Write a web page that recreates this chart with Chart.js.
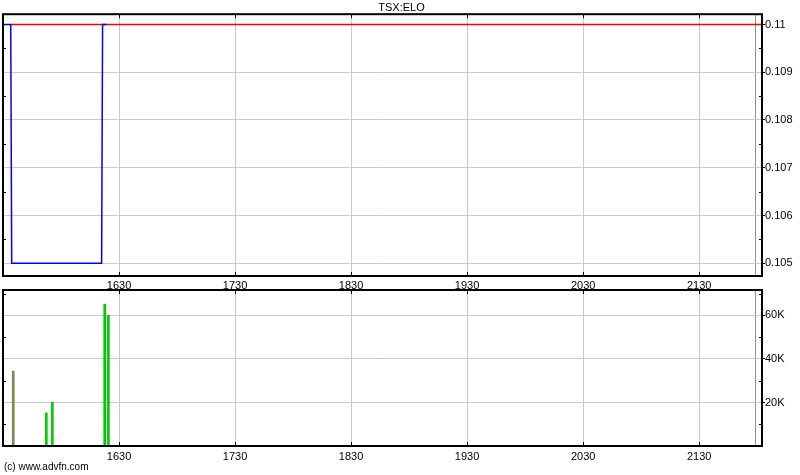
<!DOCTYPE html>
<html>
<head>
<meta charset="utf-8">
<script src="https://cdn.jsdelivr.net/npm/chart.js@4.4.0/dist/chart.umd.min.js"></script>
<style>
body { margin: 0; background: #fff; }
#wrap { position: relative; width: 800px; height: 475px; overflow: hidden; background: #fff; }
#top { position: absolute; left: 0; top: 0; width: 800px; height: 290px; }
#bottom { position: absolute; left: 0; top: 280px; width: 800px; height: 180px; }
#copy { position: absolute; left: 4px; top: 461px; font: 10px 'Liberation Sans', Arial, sans-serif; color: #000; }
</style>
</head>
<body>
<div id="wrap">
  <div id="top"><canvas id="priceChart"></canvas></div>
  <div id="bottom"><canvas id="volChart"></canvas></div>
  <div id="copy">(c) www.advfn.com</div>
</div>
<script>
var symbol = "TSX:ELO";

// times are minutes since midnight
var priceTimes = [930, 934, 934.5, 981, 981.5, 983.5];
var priceValues = [0.11, 0.11, 0.105, 0.105, 0.11, 0.11];

var refTimes = [934, 1322.5];
var refValues = [0.11, 0.11];

var volTimes = [935.3, 952.4, 955.5, 982.6, 984.5];
var volValues = [34400, 15200, 20100, 65200, 60100];
var volColors = ['#7a8a50', '#00cc00', '#00cc00', '#00cc00', '#00cc00'];

var hourTicks = [990, 1050, 1110, 1170, 1230, 1290];
var hourLabels = ['1630', '1730', '1830', '1930', '2030', '2130'];
var sessionEnd = 1319;

var priceTicks = [0.105, 0.1055, 0.106, 0.1065, 0.107, 0.1075, 0.108, 0.1085, 0.109, 0.1095, 0.11];
var priceLabels = ['0.105', '', '0.106', '', '0.107', '', '0.108', '', '0.109', '', '0.11'];

var volTicks = [10000, 20000, 30000, 40000, 50000, 60000, 70000];
var volLabels = ['', '20K', '', '40K', '', '60K', ''];

var tickFont = { family: "'Liberation Sans Narrow', 'Arial Narrow', 'Liberation Sans', sans-serif", size: 11, weight: 'normal' };
var gridColor = '#c4cccc';

Chart.defaults.color = '#000';
Chart.defaults.font = tickFont;

function zip(xs, ys) {
    return xs.map(function(x, i) { return { x: x, y: ys[i] }; });
}

// black box round the plot, plus the small inward tick marks
var framePlugin = {
    id: 'frame',
    afterDatasetsDraw: function(chart, args, opts) {
        var a = chart.chartArea;
        var ctx = chart.ctx;
        var xs = chart.scales.x;
        var ys = chart.scales.y;
        ctx.save();
        ctx.strokeStyle = '#000';
        ctx.lineWidth = 1;
        ctx.beginPath();
        hourTicks.forEach(function(v) {
            var px = Math.round(xs.getPixelForValue(v)) + 0.5;
            ctx.moveTo(px, a.top); ctx.lineTo(px, a.top + 4);
            ctx.moveTo(px, a.bottom); ctx.lineTo(px, a.bottom - 4);
        });
        opts.ticks.forEach(function(v, i) {
            if (opts.labels[i] !== '') return;
            var py = Math.round(ys.getPixelForValue(v)) + 0.5;
            ctx.moveTo(a.left, py); ctx.lineTo(a.left + 3, py);
            ctx.moveTo(a.right, py); ctx.lineTo(a.right - 3, py);
        });
        ctx.stroke();
        ctx.lineWidth = 2;
        ctx.strokeRect(a.left, a.top, a.right - a.left, a.bottom - a.top);
        ctx.restore();
    }
};

function xScale(pad) {
    return {
        type: 'linear',
        min: 930,
        max: 1322.5,
        offset: false,
        afterBuildTicks: function(axis) {
            axis.ticks = hourTicks.concat([sessionEnd]).map(function(v) { return { value: v }; });
        },
        afterFit: function(axis) { axis.height = 14; },
        border: { display: false },
        grid: {
            offset: false,
            drawTicks: false,
            color: function(c) { return c.tick && c.tick.value === sessionEnd ? '#7f9a9a' : gridColor; }
        },
        ticks: {
            autoSkip: false,
            maxRotation: 0,
            padding: pad,
            callback: function(v) {
                var i = hourTicks.indexOf(v);
                return i >= 0 ? hourLabels[i] : '';
            }
        }
    };
}

function yScale(min, max, ticks, labels) {
    return {
        type: 'linear',
        position: 'right',
        min: min,
        max: max,
        afterBuildTicks: function(axis) {
            axis.ticks = ticks.map(function(v) { return { value: v }; });
        },
        afterFit: function(axis) { axis.width = 38; },
        border: { display: false },
        grid: {
            tickLength: 3,
            color: function(c) { return labels[c.index] ? gridColor : 'rgba(0,0,0,0)'; },
            tickColor: function(c) { return labels[c.index] ? '#000' : 'rgba(0,0,0,0)'; }
        },
        ticks: {
            padding: 0,
            autoSkip: false,
            callback: function(v, i) { return labels[i]; }
        }
    };
}

new Chart(document.getElementById('priceChart'), {
    type: 'line',
    data: {
        datasets: [{
            data: zip(priceTimes, priceValues),
            borderColor: '#0000ff',
            borderWidth: 1.5,
            pointRadius: 0,
            tension: 0,
            order: 0
        }, {
            data: zip(refTimes, refValues),
            borderColor: '#ff0000',
            borderWidth: 1.5,
            pointRadius: 0,
            tension: 0,
            order: 1
        }]
    },
    options: {
        responsive: true,
        maintainAspectRatio: false,
        animation: false,
        layout: { padding: { left: 3, right: 0, top: 0, bottom: 0 } },
        plugins: {
            legend: { display: false },
            tooltip: { enabled: false },
            title: {
                display: true,
                text: symbol,
                font: tickFont,
                padding: { top: 1, bottom: 0 }
            },
            frame: { ticks: priceTicks, labels: priceLabels }
        },
        scales: {
            x: xScale(3),
            y: yScale(0.104734, 0.110215, priceTicks, priceLabels)
        }
    },
    plugins: [framePlugin]
});

new Chart(document.getElementById('volChart'), {
    type: 'bar',
    data: {
        datasets: [{
            data: zip(volTimes, volValues),
            backgroundColor: volColors,
            barThickness: 2,
            borderWidth: 0
        }]
    },
    options: {
        responsive: true,
        maintainAspectRatio: false,
        animation: false,
        layout: { padding: { left: 3, right: 0, top: 10, bottom: 0 } },
        plugins: {
            legend: { display: false },
            tooltip: { enabled: false },
            frame: { ticks: volTicks, labels: volLabels }
        },
        scales: {
            x: xScale(4),
            y: yScale(0, 71700, volTicks, volLabels)
        }
    },
    plugins: [framePlugin]
});
</script>
</body>
</html>
